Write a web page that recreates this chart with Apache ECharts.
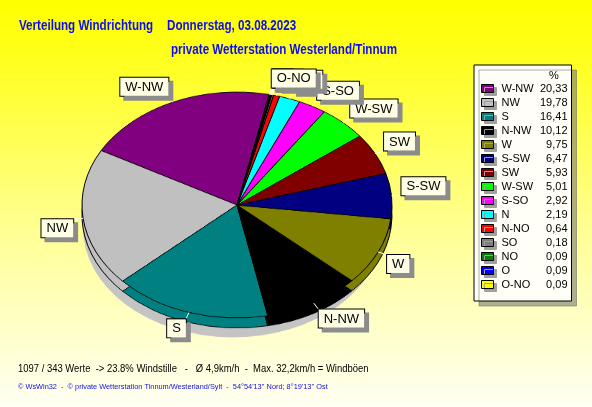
<!DOCTYPE html>
<html><head><meta charset="utf-8">
<script src="https://cdn.jsdelivr.net/npm/echarts@6/dist/echarts.min.js"></script>
<style>
html,body{margin:0;padding:0;overflow:hidden;background:#fff;}
#wrap{position:relative;width:592px;height:407px;}
#bg,#pie,#fg{position:absolute;left:0;top:0;width:592px;height:407px;}
#pie{transform:scaleY(0.729);transform-origin:237px 205px;}
</style></head><body>
<div id="wrap"><div id="bg"></div><div id="pie"></div><div id="fg"></div></div>
<script>
// ---- data ----
const names  = ['W-NW','NW','S','N-NW','W','S-SW','SW','W-SW','S-SO','N','N-NO','SO','NO','O','O-NO'];
const values = [20.33,19.78,16.41,10.12,9.75,6.47,5.93,5.01,2.92,2.19,0.64,0.18,0.09,0.09,0.09];
const colors = ['#800080','#c0c0c0','#008080','#000000','#808000','#000080','#800000','#00ff00','#ff00ff','#00ffff','#ff0000','#808080','#008000','#0000ff','#ffff00'];
const titleLeft  = 'Verteilung Windrichtung';
const titleDate  = 'Donnerstag, 03.08.2023';
const subTitle   = 'private Wetterstation Westerland/Tinnum';
const statsLine  = '1097 / 343 Werte  -> 23.8% Windstille   -   \u00d8 4,9km/h  -  Max. 32,2km/h = Windb\u00f6en';
const footerLine = '\u00a9 WsWin32  -  \u00a9 private Wetterstation Tinnum/Westerland/Sylt  -  54\u00b054\'13\'\' Nord; 8\u00b019\'13\'\' Ost';

// ---- layout constants ----
const CX = 237, CY = 205, R = 155, K = 0.729, START = 78;
const FONT = "'Liberation Sans', Arial, sans-serif";
const pieData = names.map((n, i) => ({ name: n, value: values[i], itemStyle: { color: colors[i] } }));

// ---- background + texts ----
const bg = echarts.init(document.getElementById('bg'), null, { renderer: 'canvas' });
const txt = (x, y, s, font, fill, sx) => ({ type: 'text', x: x, y: y, scaleX: sx,
  style: { text: s, font: font, fill: fill, verticalAlign: 'middle', align: 'left' } });
bg.setOption({
  animation: false,
  backgroundColor: { type: 'linear', x: 0, y: 0, x2: 0, y2: 1,
    colorStops: [{ offset: 0, color: '#ffff00' }, { offset: 0.12, color: '#ffff18' }, { offset: 0.55, color: '#ffff90' }, { offset: 1, color: '#fffff4' }] },
  graphic: [
    txt(19, 26, titleLeft, 'bold 14px ' + FONT, '#0c0cf0', 0.83),
    txt(167, 26, titleDate, 'bold 14px ' + FONT, '#0c0cf0', 0.83),
    txt(171, 50, subTitle, 'bold 14px ' + FONT, '#0c0cf0', 0.83),
    txt(18, 369, statsLine, '11px ' + FONT, '#000', 0.86),
    txt(18, 387, footerLine, '8px ' + FONT, '#1010e0', 0.92)
  ]
});

// ---- pie (scaled into an ellipse by the container) ----
const pie = echarts.init(document.getElementById('pie'), null, { renderer: 'canvas' });
const common = { type: 'pie', radius: R, startAngle: START, clockwise: false, silent: true,
  label: { show: false }, labelLine: { show: false }, emphasis: { disabled: true } };
pie.setOption({
  animation: false,
  series: [
    Object.assign({}, common, { center: [CX - 4, CY + 23 / K], radius: 150, data: [{ name: 'shadow', value: 1, itemStyle: { color: '#c4c4c4' } }], itemStyle: { borderWidth: 0 } }),
    Object.assign({}, common, { center: [CX, CY + 10 / K], data: pieData, itemStyle: { borderColor: '#000', borderWidth: 1 } }),
    Object.assign({}, common, { center: [CX, CY], data: pieData, itemStyle: { borderColor: '#000', borderWidth: 1 } })
  ]
});

// ---- labels + legend ----
const fg = echarts.init(document.getElementById('fg'), null, { renderer: 'canvas' });
const fmt = v => v.toFixed(2).replace('.', ',');
fg.setOption({
  animation: false,
  legend: {
    orient: 'vertical', left: 474, top: 65, itemGap: 3, itemWidth: 12, itemHeight: 8, icon: 'rect',
    selectedMode: false, padding: [18, 4, 11, 7],
    backgroundColor: '#fffff8', borderColor: '#000', borderWidth: 1,
    shadowColor: 'rgba(110,110,110,0.55)', shadowOffsetX: 5, shadowOffsetY: 5, shadowBlur: 0,
    itemStyle: { borderColor: '#000', borderWidth: 1, shadowColor: '#a0a0a0', shadowOffsetX: 3, shadowOffsetY: 3, shadowBlur: 0 },
    data: names.map((n, i) => ({ name: n, itemStyle: { color: colors[i] } })),
    formatter: name => '{n|' + name + '}{v|' + fmt(values[names.indexOf(name)]) + '}',
    textStyle: { fontSize: 11, fontFamily: FONT, color: '#000',
      rich: { n: { width: 38, padding: [0, 0, 0, 3], fontSize: 11, fontFamily: FONT, color: '#000' },
              v: { width: 28, align: 'right', fontSize: 11, fontFamily: FONT, color: '#000' } } }
  },
  graphic: [{ type: 'text', left: 549, top: 70, z: 100, style: { text: '%', fill: '#000', font: '11px ' + FONT } }],
  series: [{
    type: 'pie', center: [CX, CY], radius: R, startAngle: START, clockwise: false, silent: true,
    avoidLabelOverlap: false, emphasis: { disabled: true },
    data: names.map((n, i) => ({ name: n, value: values[i] })),
    itemStyle: { color: 'rgba(0,0,0,0)', borderWidth: 0 },
    label: { show: true, position: 'outside', color: '#000', fontSize: 13, fontFamily: FONT,
      backgroundColor: '#ffffe6', borderColor: '#000', borderWidth: 1, padding: [3, 5, 2, 5],
      shadowColor: '#8c8c8c', shadowOffsetX: 4, shadowOffsetY: 4, shadowBlur: 0 },
    labelLine: { show: true, length: 10, length2: 0, lineStyle: { color: '#ffffff', width: 1 } },
    labelLayout: function (p) {
      const pts = p.labelLinePoints;
      if (!pts) return {};
      const p0 = pts[0], p1 = pts[1];
      const dx = p1[0] - p0[0], dy = p1[1] - p0[1];
      const q0 = [p0[0], CY + (p0[1] - CY) * K];
      const q1 = [q0[0] + dx, q0[1] + dy * K];
      return { x: q1[0], y: q1[1], align: dx >= 0 ? 'left' : 'right', verticalAlign: dy <= 0 ? 'bottom' : 'top',
               labelLinePoints: [q0, q1, q1] };
    }
  }]
});
</script>
</body></html>
